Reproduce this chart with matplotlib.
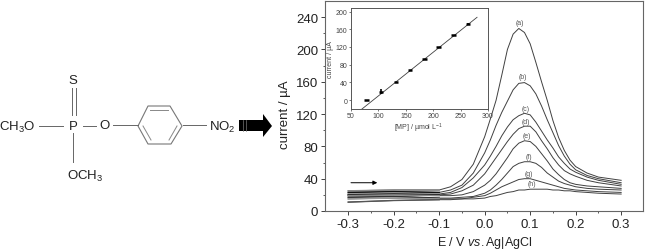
import matplotlib
matplotlib.use('Agg')
from matplotlib import pyplot as plt
from matplotlib.patches import Polygon

plt.rcParams['font.family'] = ['Liberation Sans', 'DejaVu Sans']
plt.rcParams['mathtext.fontset'] = 'custom'
plt.rcParams['mathtext.rm'] = 'Liberation Sans'
plt.rcParams['mathtext.it'] = 'Liberation Sans:italic'
plt.rcParams['axes.unicode_minus'] = False

# voltammograms
potential = [-0.3, -0.2, -0.1, -0.075, -0.05, -0.025, 0, 0.0125, 0.025, 0.0375, 0.05, 0.0625, 0.075,
             0.0875, 0.1, 0.1125, 0.125, 0.1375, 0.15, 0.1625, 0.175, 0.1875, 0.2, 0.225, 0.25, 0.3]
curve_a = [25, 26, 26, 30, 39, 58, 92, 114, 137, 168, 200, 219, 226, 221, 207, 184, 160, 137, 112, 91, 75, 63, 55, 47, 42, 38]
curve_b = [23, 24, 23, 26, 32, 47, 72, 88, 106, 122, 136, 150, 158, 159, 155, 145, 130, 113, 97, 81, 68, 58, 51, 44, 40, 35]
curve_c = [21, 22, 21, 23, 29, 41, 57, 68, 80, 93, 104, 113, 118, 121, 119, 110, 99, 88, 78, 67, 59, 52, 48, 42, 38, 33]
curve_d = [20, 21, 20, 21, 25, 32, 46, 56, 66, 76, 86, 95, 102, 105, 105, 98, 87, 77, 66, 57, 50, 46, 43, 38, 35, 31]
curve_e = [19, 20, 19, 19, 20, 24, 32, 38, 46, 56, 66, 77, 84, 87, 86, 80, 71, 62, 52, 45, 39, 35, 33, 31, 30, 28]
curve_f = [17, 18, 16, 16, 17, 18, 22, 26, 32, 39, 47, 55, 59, 61, 61, 59, 54, 47, 42, 37, 34, 32, 30, 28, 27, 26]
curve_g = [15, 16, 15, 15, 15, 17, 19, 22, 26, 30, 33, 36, 39, 40, 40, 38, 36, 34, 32, 30, 28, 27, 26, 25, 24, 23]
curve_h = [11, 13, 14, 14, 15, 15, 16, 18, 19, 21, 23, 24, 26, 26, 27, 27, 27, 27, 26, 26, 25, 25, 24, 23, 22, 21]
curves = [curve_a, curve_b, curve_c, curve_d, curve_e, curve_f, curve_g, curve_h]
curve_names = ['(a)', '(b)', '(c)', '(d)', '(e)', '(f)', '(g)', '(h)']
name_x = [0.077, 0.083, 0.09, 0.09, 0.093, 0.097, 0.097, 0.103]
name_y = [233, 166, 127, 111, 93, 68, 46, 34]

# calibration inset
conc = [78, 105, 132, 158, 184, 210, 237, 263]
peak = [0, 19, 41, 68, 93, 119, 147, 173]
peak_err = [1, 6, 1, 1, 1, 2, 1, 1]
fit_x = [70, 280]
fit_y = [-20, 187]

W, H = 645, 251
dark = '#404040'
fig = plt.figure(figsize=(W / 100, H / 100), dpi=100)


def box(left, top, right, bottom):
    return [left / W, 1 - bottom / H, (right - left) / W, (bottom - top) / H]


ax = fig.add_axes(box(325, 2, 643, 212))
shades = ['#888888', '#111111', '#999999', '#222222', '#888888', '#333333', '#999999', '#555555']
for c, shade in zip(curves, shades):
    ax.plot(potential, c, color=dark, lw=0.7)
    # the flat start of each scan looks heavier and patchy
    ax.plot(potential[:3], c[:3], color=shade, lw=1.0)
for name, x, y in zip(curve_names, name_x, name_y):
    ax.text(x, y, name, fontsize=5, color='#555555', ha='center', va='center')
ax.annotate('', xy=(-0.23, 35), xytext=(-0.3, 35),
            arrowprops=dict(arrowstyle='-|>', color='black', lw=0.7, mutation_scale=6))
ax.set_xlim(-0.351, 0.348)
ax.set_ylim(0, 260)
ax.set_xticks([-0.3, -0.2, -0.1, 0.0, 0.1, 0.2, 0.3])
ax.set_xticks([-0.25, -0.15, -0.05, 0.05, 0.15, 0.25], minor=True)
ax.set_yticks(range(0, 241, 40))
ax.set_yticks(range(20, 241, 40), minor=True)
ax.tick_params(axis='both', which='major', labelsize=9.5, length=3, width=0.7, color=dark, pad=2, labelcolor='#222222')
ax.tick_params(axis='both', which='minor', length=1.5, width=0.6, color=dark)
for s in ax.spines.values():
    s.set_linewidth(0.8)
    s.set_color('#666666')

ins = fig.add_axes(box(351, 9, 488, 110))
ins.plot(fit_x, fit_y, color=dark, lw=0.6)
ins.errorbar(conc, peak, xerr=4, fmt='none', ecolor='black', elinewidth=1.8, capsize=0)
ins.errorbar(conc, peak, yerr=peak_err, fmt='none', ecolor='black', elinewidth=1.2, capsize=0)
ins.set_xlim(50, 300)
ins.set_ylim(-20, 208)
ins.set_xticks(range(50, 301, 50))
ins.set_yticks(range(0, 201, 40))
ins.tick_params(axis='both', labelsize=5, length=1.5, width=0.5, pad=1, labelcolor='#444444', color=dark)
for s in ins.spines.values():
    s.set_linewidth(0.7)
    s.set_color('#555555')

# molecule and other labels, in pixel coordinates
bg = fig.add_axes([0, 0, 1, 1], zorder=3)
bg.set_xlim(0, W)
bg.set_ylim(H, 0)
bg.axis('off')
bg.patch.set_alpha(0)

txt = dict(fontsize=9.5, color='#222222', ha='center', va='center')
bg.text(285, 115, 'current / µA', rotation=90, **txt)
bg.text(485, 243, r'E / V $\mathit{vs.}$Ag|AgCl', fontsize=9, color='#222222', ha='center', va='center')
bg.text(331, 60, 'current / µA', rotation=90, fontsize=5, color='#444444', ha='center', va='center')
bg.text(418, 128, r'[MP] / µmol L$^{-1}$', fontsize=5, color='#444444', ha='center', va='center')

bg.text(73, 81, 'S', **txt)
bg.text(73, 127, 'P', **txt)
bg.text(105, 126, 'O', **txt)
bg.text(17, 127, r'CH$_3$O', **txt)
bg.text(85, 176, r'OCH$_3$', **txt)
bg.text(222, 127, r'NO$_2$', **txt)

bonds = [((72, 72), (89, 116)), ((76, 76), (89, 116)), ((39, 63), (127, 127)), ((83, 96), (127, 127)),
         ((73, 73), (134, 163)), ((113, 138), (126, 126)), ((183, 206), (126, 126))]
for xs, ys in bonds:
    bg.plot(xs, ys, color='#666666', lw=0.7)
ring = [(138, 127), (148, 107), (170, 107), (182, 127), (171, 145), (148, 145)]
bg.add_patch(Polygon(ring, closed=True, fill=False, ec='#777777', lw=0.8))
for xs, ys in [((150, 168), (111, 111)), ((143, 151), (127, 141)), ((177, 169), (127, 141))]:
    bg.plot(xs, ys, color='#888888', lw=0.7)
bg.add_patch(Polygon([(239, 121), (263, 121), (263, 115), (272, 127), (263, 138), (263, 132), (239, 132)],
                     closed=True, fc='black', ec='none'))
for x in [243, 246]:
    bg.plot([x, x], [121, 132], color='#777777', lw=0.5)

fig.savefig('out.png', dpi=100)
